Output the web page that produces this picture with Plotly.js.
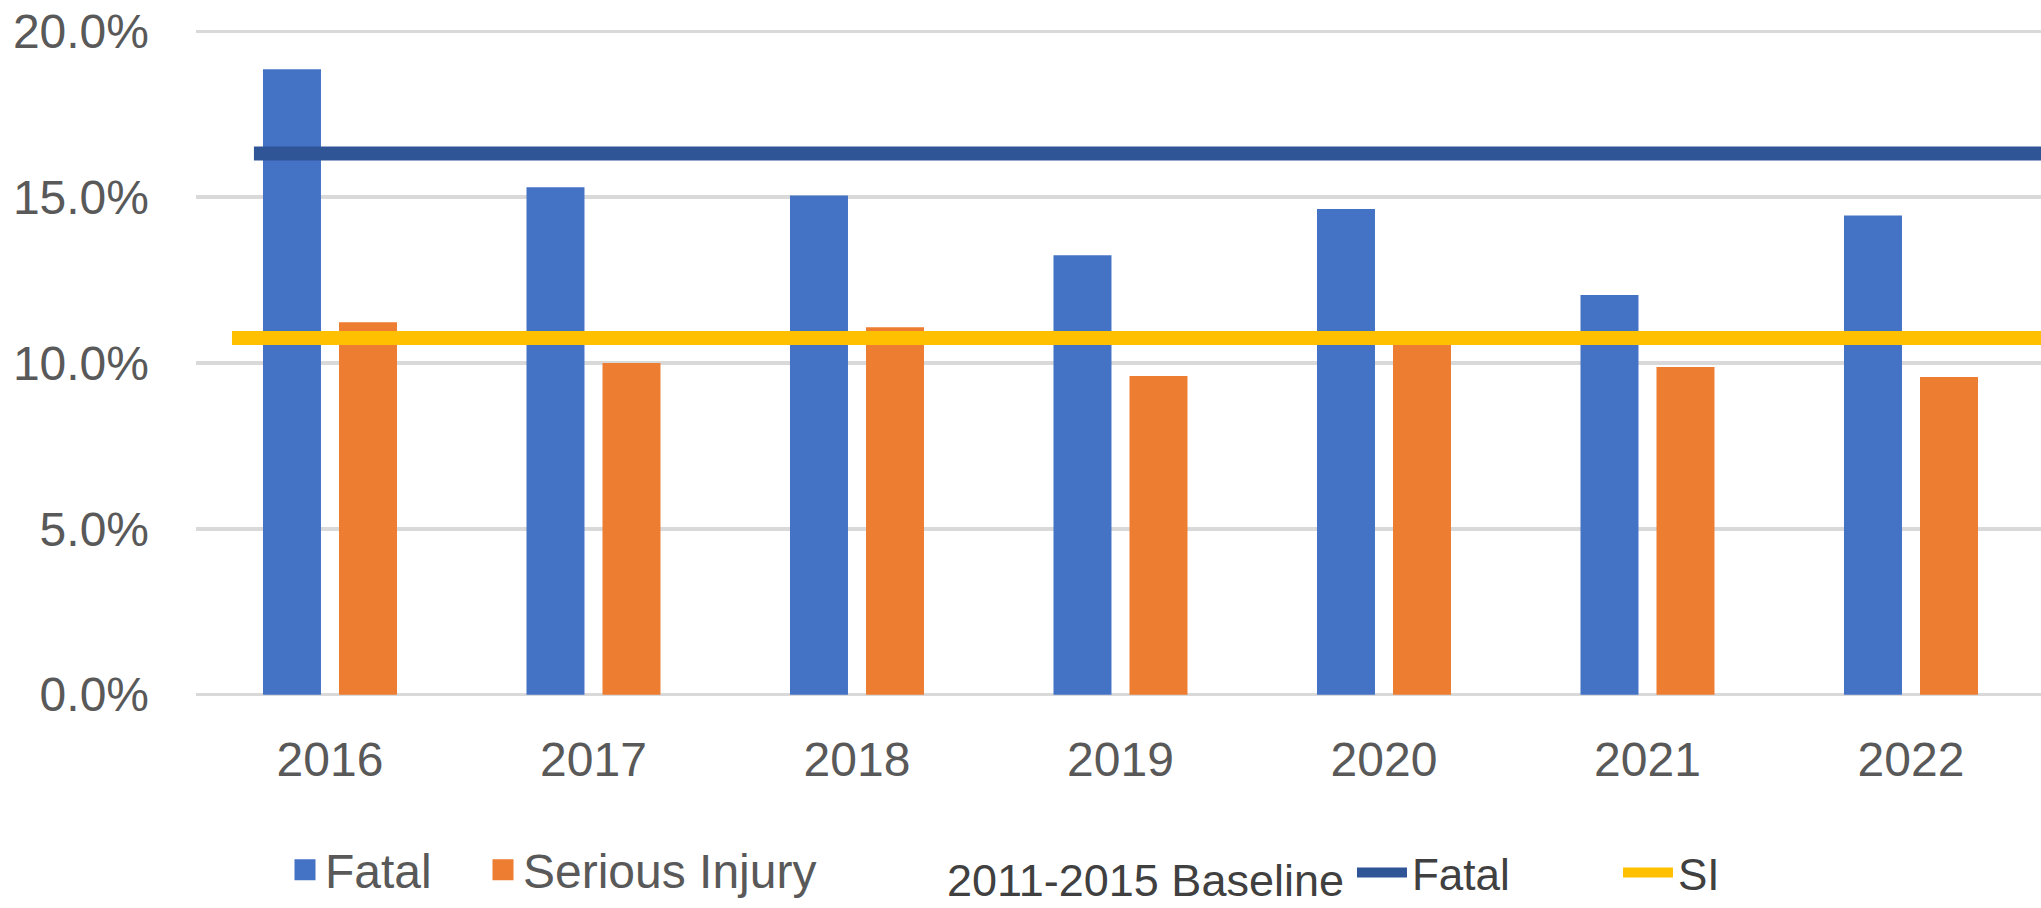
<!DOCTYPE html>
<html>
<head>
<meta charset="utf-8">
<script src="https://cdn.plot.ly/plotly-3.0.1.min.js"></script>
<style>
  html, body { margin: 0; padding: 0; background: #ffffff; overflow: hidden; }
  #chart { width: 2041px; height: 908px; }
</style>
</head>
<body>
<div id="chart"></div>
<script>
// ---- Data ----
const years = ['2016', '2017', '2018', '2019', '2020', '2021', '2022'];
const fatalShare = [0.1886, 0.1530, 0.1505, 0.1325, 0.1464, 0.1205, 0.1445];
const seriousInjuryShare = [0.1123, 0.1000, 0.1108, 0.0961, 0.1070, 0.0988, 0.0958];
const baselineFatal = 0.1632;   // 2011-2015 baseline, fatal
const baselineSI = 0.1075;      // 2011-2015 baseline, serious injury
const yTickVals = [0, 0.05, 0.10, 0.15, 0.20];

// ---- Styling ----
const FONT = '"Liberation Sans", Arial, sans-serif';
const GREY = '#595959';
const fatalLineStart = 0.0314;  // where the baseline lines begin (fraction of plot width)
const siLineStart = 0.0195;

const traces = [
  { type: 'bar', name: 'Fatal', x: years, y: fatalShare,
    marker: { color: '#4472C4' }, showlegend: false, legendgroup: 'f', hoverinfo: 'skip' },
  { type: 'bar', name: 'Serious Injury', x: years, y: seriousInjuryShare,
    marker: { color: '#ED7D31' }, showlegend: false, legendgroup: 's', hoverinfo: 'skip' },
  // legend-only entries with larger square swatches
  { type: 'scatter', mode: 'markers', name: 'Fatal', x: [null], y: [null], legend: 'legend',
    legendgroup: 'f', legendwidth: 153,
    marker: { symbol: 'square', size: 16, color: '#4472C4', line: { color: '#4472C4', width: 5 } } },
  { type: 'scatter', mode: 'markers', name: 'Serious Injury', x: [null], y: [null], legend: 'legend',
    legendgroup: 's',
    marker: { symbol: 'square', size: 16, color: '#ED7D31', line: { color: '#ED7D31', width: 5 } } },
  // baselines
  { type: 'scatter', mode: 'lines', name: 'Fatal', xaxis: 'x2', yaxis: 'y', legend: 'legend2',
    legendwidth: 201,
    x: [fatalLineStart, 1], y: [baselineFatal, baselineFatal],
    line: { color: '#2F5597', width: 14 }, hoverinfo: 'skip' },
  { type: 'scatter', mode: 'lines', name: 'SI', xaxis: 'x2', yaxis: 'y', legend: 'legend2',
    x: [siLineStart, 1], y: [baselineSI, baselineSI],
    line: { color: '#FFC000', width: 14 }, hoverinfo: 'skip' }
];

const PLOT_L = 196, PLOT_W = 2041 - 196, PLOT_BOTTOM = 698, PLOT_H = 670;
const px2paperX = (px) => (px - PLOT_L) / PLOT_W;
const px2paperY = (py) => (PLOT_BOTTOM - py) / PLOT_H;

const layout = {
  width: 2041, height: 908,
  margin: { l: 196, r: 0, t: 28, b: 210, pad: 0, autoexpand: false },
  paper_bgcolor: '#ffffff', plot_bgcolor: '#ffffff',
  font: { family: FONT, color: GREY, size: 48 },
  barmode: 'group', bargap: 0.4231, bargroupgap: 0.237,
  hovermode: false,
  xaxis: {
    type: 'category', range: [-0.5085, 6.4934], showgrid: false, zeroline: false,
    showline: false, ticks: '', tickfont: { family: FONT, size: 48, color: GREY },
    ticklabelstandoff: 29
  },
  xaxis2: { overlaying: 'x', anchor: 'y', range: [0, 1], visible: false, fixedrange: true },
  yaxis: {
    range: [-0.001, 0.201], tickvals: yTickVals, tickformat: '.1%',
    showgrid: true, gridcolor: '#D9D9D9', gridwidth: 3.5, zeroline: false,
    showline: false, ticks: '', tickfont: { family: FONT, size: 48, color: GREY },
    ticklabelstandoff: 46
  },
  legend: {
    orientation: 'h', xref: 'paper', yref: 'paper',
    x: px2paperX(285), xanchor: 'left', y: px2paperY(870), yanchor: 'middle',
    font: { family: FONT, size: 48, color: GREY },
    bgcolor: 'rgba(0,0,0,0)', borderwidth: 0, tracegroupgap: 0
  },
  legend2: {
    orientation: 'h', xref: 'paper', yref: 'paper',
    x: px2paperX(945), xanchor: 'left', y: px2paperY(873), yanchor: 'middle',
    itemwidth: 50,
    font: { family: FONT, size: 44, color: '#404040' },
    title: { text: '2011-2015 Baseline', side: 'left', font: { family: FONT, size: 45, color: '#404040' } },
    bgcolor: 'rgba(0,0,0,0)', borderwidth: 0
  }
};

Plotly.newPlot('chart', traces, layout, { displayModeBar: false, staticPlot: true });
</script>
</body>
</html>
